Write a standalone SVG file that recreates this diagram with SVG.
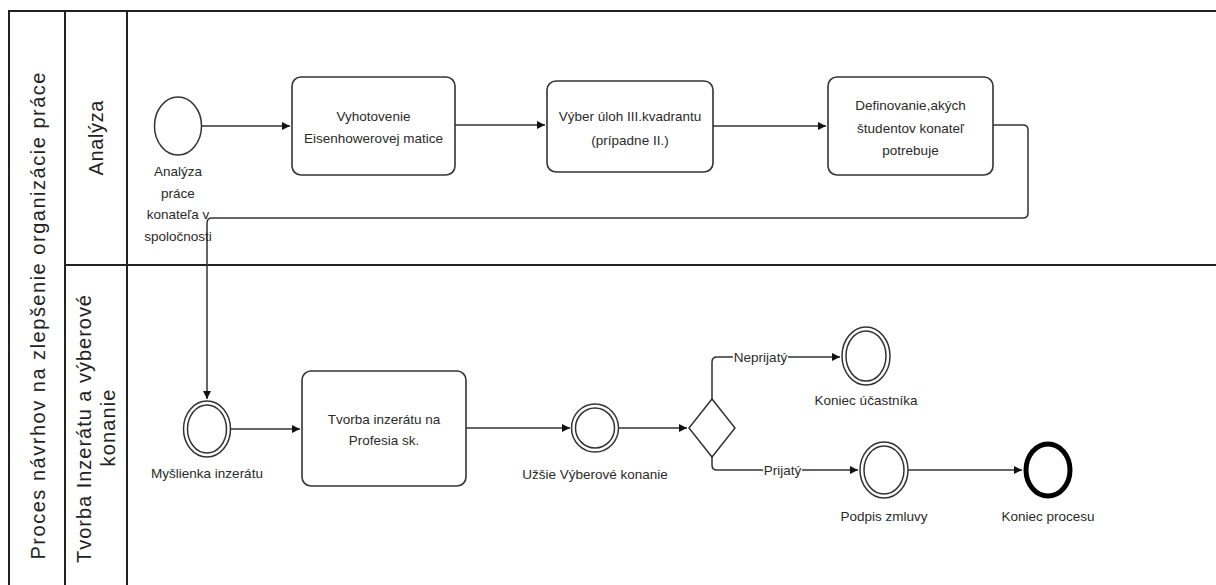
<svg xmlns="http://www.w3.org/2000/svg" width="1216" height="585" viewBox="0 0 1216 585">
  <style>
    .frame { fill: none; stroke: #222; stroke-width: 2; }
    .task { fill: #fff; stroke: #333; stroke-width: 1.6; }
    .ev { fill: #fff; stroke: #333; stroke-width: 1.5; }
    .end { fill: #fff; stroke: #000; stroke-width: 5; }
    .gw { fill: #fff; stroke: #333; stroke-width: 1.5; }
    .flow { fill: none; stroke: #333; stroke-width: 1.5; }
    .t { font-family: "Liberation Sans", Arial, sans-serif; font-size: 13.5px; fill: #2a2a2a; text-anchor: middle; }
    .lane { font-family: "Liberation Sans", Arial, sans-serif; font-size: 20px; fill: #222; text-anchor: middle; }
    .lbl { fill: #fff; }
  </style>
  <defs>
    <marker id="arrow" viewBox="0 0 10 10" refX="10" refY="5" markerWidth="8" markerHeight="8" markerUnits="userSpaceOnUse" orient="auto">
      <path d="M0,0 L10,5 L0,10 z" fill="#111"/>
    </marker>
  </defs>

  <!-- pool and lanes -->
  <g id="pool">
    <path class="frame" d="M9,585 V11 H1216"/>
    <path class="frame" d="M65,11 V585"/>
    <path class="frame" d="M127,11 V585"/>
    <path class="frame" d="M65,265 H1216"/>
    <text class="lane" transform="translate(45,316) rotate(-90)" textLength="487" lengthAdjust="spacing">Proces návrhov na zlepšenie organizácie práce</text>
  </g>
  <g id="lane-analyza">
    <text class="lane" transform="translate(103,138) rotate(-90)" textLength="75" lengthAdjust="spacing">Analýza</text>
  </g>
  <g id="lane-tvorba">
    <text class="lane" transform="translate(91,429) rotate(-90)" textLength="268" lengthAdjust="spacing">Tvorba Inzerátu a výberové</text>
    <text class="lane" transform="translate(115,428) rotate(-90)" textLength="77" lengthAdjust="spacing">konanie</text>
  </g>

  <!-- connectors -->
  <g id="connectors">
    <path class="flow" d="M202,126 H290" marker-end="url(#arrow)"/>
    <path class="flow" d="M455,125 H545" marker-end="url(#arrow)"/>
    <path class="flow" d="M713,126 H826" marker-end="url(#arrow)"/>
    <path class="flow" d="M993,125 H1023 Q1028,125 1028,130 V213 Q1028,218 1023,218 H212 Q207,218 207,223 V399" marker-end="url(#arrow)"/>
    <path class="flow" d="M230,429 H300" marker-end="url(#arrow)"/>
    <path class="flow" d="M466,428 H570" marker-end="url(#arrow)"/>
    <path class="flow" d="M618,428 H687" marker-end="url(#arrow)"/>
    <path class="flow" d="M712,399 V362 Q712,357 717,357 H840" marker-end="url(#arrow)"/>
    <path class="flow" d="M712,457 V465 Q712,470 717,470 H858" marker-end="url(#arrow)"/>
    <path class="flow" d="M908,470 H1022" marker-end="url(#arrow)"/>
    <rect class="lbl" x="733" y="349" width="55" height="16"/>
    <text class="t" x="760.5" y="362">Neprijatý</text>
    <rect class="lbl" x="763" y="462" width="39" height="16"/>
    <text class="t" x="782.5" y="475">Prijatý</text>
  </g>

  <!-- Analýza lane -->
  <g id="start">
    <ellipse class="ev" cx="178" cy="126" rx="23.5" ry="29"/>
    <text class="t" x="178" y="176">Analýza</text>
    <text class="t" x="178" y="198">práce</text>
    <text class="t" x="178" y="219">konateľa v</text>
    <text class="t" x="178" y="241">spoločnosti</text>
  </g>
  <g id="task-eisenhower">
    <rect class="task" x="292" y="77" width="163" height="98" rx="9"/>
    <text class="t" x="373.5" y="121">Vyhotovenie</text>
    <text class="t" x="373.5" y="143">Eisenhowerovej matice</text>
  </g>
  <g id="task-vyber">
    <rect class="task" x="547" y="81" width="166" height="91" rx="9"/>
    <text class="t" x="630" y="121">Výber úloh III.kvadrantu</text>
    <text class="t" x="630" y="145">(prípadne II.)</text>
  </g>
  <g id="task-definovanie">
    <rect class="task" x="828" y="77" width="165" height="98" rx="9"/>
    <text class="t" x="910.5" y="110">Definovanie,akých</text>
    <text class="t" x="910.5" y="133">študentov konateľ</text>
    <text class="t" x="910.5" y="155">potrebuje</text>
  </g>

  <!-- Tvorba lane -->
  <g id="ev-myslienka">
    <ellipse class="ev" cx="207" cy="429" rx="23.5" ry="28"/>
    <ellipse class="ev" cx="207" cy="429" rx="19.5" ry="24"/>
    <text class="t" x="207" y="478">Myšlienka inzerátu</text>
  </g>
  <g id="task-tvorba">
    <rect class="task" x="302" y="371" width="164" height="115" rx="9"/>
    <text class="t" x="384" y="424">Tvorba inzerátu na</text>
    <text class="t" x="384" y="445">Profesia sk.</text>
  </g>
  <g id="ev-uzsie">
    <ellipse class="ev" cx="595" cy="428" rx="23.5" ry="24"/>
    <ellipse class="ev" cx="595" cy="428" rx="19.5" ry="20"/>
    <text class="t" x="595" y="479">Užšie Výberové konanie</text>
  </g>
  <g id="gateway">
    <path class="gw" d="M712,399 L735,428 L712,457 L689,428 z"/>
  </g>
  <g id="ev-koniec-ucastnika">
    <ellipse class="ev" cx="866" cy="356" rx="24" ry="29"/>
    <ellipse class="ev" cx="866" cy="356" rx="20" ry="25"/>
    <text class="t" x="866" y="405">Koniec účastníka</text>
  </g>
  <g id="ev-podpis">
    <ellipse class="ev" cx="884" cy="470" rx="24" ry="28"/>
    <ellipse class="ev" cx="884" cy="470" rx="20" ry="24"/>
    <text class="t" x="884" y="521">Podpis zmluvy</text>
  </g>
  <g id="ev-koniec-procesu">
    <ellipse class="end" cx="1048" cy="470" rx="22" ry="26"/>
    <text class="t" x="1048" y="521">Koniec procesu</text>
  </g>
</svg>
